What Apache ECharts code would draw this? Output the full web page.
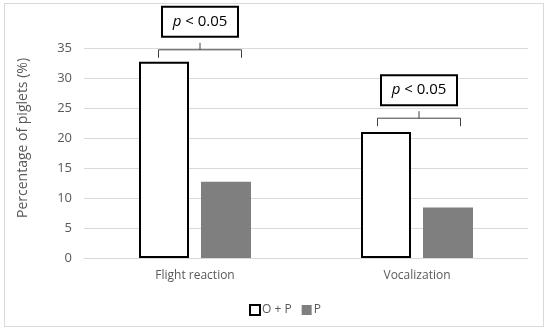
<!DOCTYPE html>
<html>
<head>
<meta charset="utf-8">
<script src="https://cdn.jsdelivr.net/npm/echarts@6/dist/echarts.min.js"></script>
<style>
html,body{margin:0;padding:0;background:#fff;}
#frame{position:absolute;left:4px;top:3px;width:540px;height:324px;border:1px solid #d9d9d9;box-sizing:border-box;}
#chart{position:absolute;left:0;top:0;width:550px;height:334px;}
</style>
</head>
<body>
<div id="frame"></div>
<div id="chart"></div>
<script>
const categories = ['Flight reaction', 'Vocalization'];
const seriesNames = ['O + P', 'P'];
const valuesOP = [32.7, 21.0];
const valuesP = [12.7, 8.4];
const yTicks = [0, 5, 10, 15, 20, 25, 30, 35];
const yTitle = 'Percentage of piglets (%)';
const annotLevels = [34.7, 23.3];
const annotLabels = ['< 0.05', '< 0.05'];

const FONT = 'Open Sans';
const chart = echarts.init(document.getElementById('chart'), null, {renderer: 'canvas'});
const option = {
  backgroundColor: 'transparent',
  animation: false,
  textStyle: {fontFamily: FONT},
  grid: {left: 84, right: 22, top: 48, bottom: 76},
  legend: {
    data: seriesNames.map(n => ({name: n, icon: 'rect'})),
    left: 244, top: 299,
    itemWidth: 10, itemHeight: 10, itemGap: 10,
    textStyle: {color: '#595959', fontSize: 12, fontFamily: FONT, padding: [0,0,0,-3]}
  },
  xAxis: {
    type: 'category', data: categories,
    axisLine: {lineStyle: {color: '#d9d9d9', width: 1}},
    axisTick: {show: false},
    axisLabel: {color: '#595959', fontSize: 12, margin: 12, fontFamily: FONT}
  },
  yAxis: {
    type: 'value', min: yTicks[0], max: yTicks[yTicks.length-1], interval: 5,
    axisLine: {show: false}, axisTick: {show: false},
    axisLabel: {color: '#595959', fontSize: 13, margin: 12, fontFamily: FONT},
    splitLine: {lineStyle: {color: '#d9d9d9', width: 1}}
  },
  series: [
    {name: seriesNames[0], type: 'bar', data: valuesOP, barWidth: 50, barGap: '24%',
     itemStyle: {color: '#ffffff', borderColor: '#000000', borderWidth: 2}},
    {name: seriesNames[1], type: 'bar', data: valuesP, barWidth: 50,
     itemStyle: {color: '#7f7f7f', borderColor: '#7f7f7f', borderWidth: 0}}
  ]
};
chart.setOption(option);

const graphics = [{
  type: 'text', silent: true, x: 23, y: 138, rotation: Math.PI / 2,
  style: {text: yTitle, align: 'center', verticalAlign: 'middle',
          fontFamily: FONT, fontSize: 14, fill: '#595959'}
}];
categories.forEach((cat, i) => {
  const c = chart.convertToPixel({xAxisIndex: 0, yAxisIndex: 0}, [cat, annotLevels[i]]);
  const cx = c[0] + (i === 0 ? 5 : 2);
  const y = c[1];
  const half = 41.5;
  graphics.push({
    type: 'polyline', silent: true,
    shape: {points: [[cx-half, y+8], [cx-half, y], [cx+half, y], [cx+half, y+8]]},
    style: {stroke: '#404040', lineWidth: 1, fill: null}
  });
  graphics.push({
    type: 'line', silent: true,
    shape: {x1: cx, y1: y, x2: cx, y2: y-7},
    style: {stroke: '#404040', lineWidth: 1}
  });
  graphics.push({
    type: 'rect', silent: true,
    shape: {x: cx-38, y: y-43, width: 76, height: 30},
    style: {fill: '#ffffff', stroke: '#000000', lineWidth: 2}
  });
  graphics.push({
    type: 'text', silent: true,
    x: cx, y: y-28,
    style: {
      text: '{i|p} ' + annotLabels[i],
      align: 'center', verticalAlign: 'middle',
      fontFamily: FONT, fontSize: 15, fill: '#000000',
      rich: {i: {fontStyle: 'italic', fontFamily: FONT, fontSize: 15, fill: '#000000'}}
    }
  });
});
chart.setOption({graphic: graphics});
</script>
</body>
</html>
